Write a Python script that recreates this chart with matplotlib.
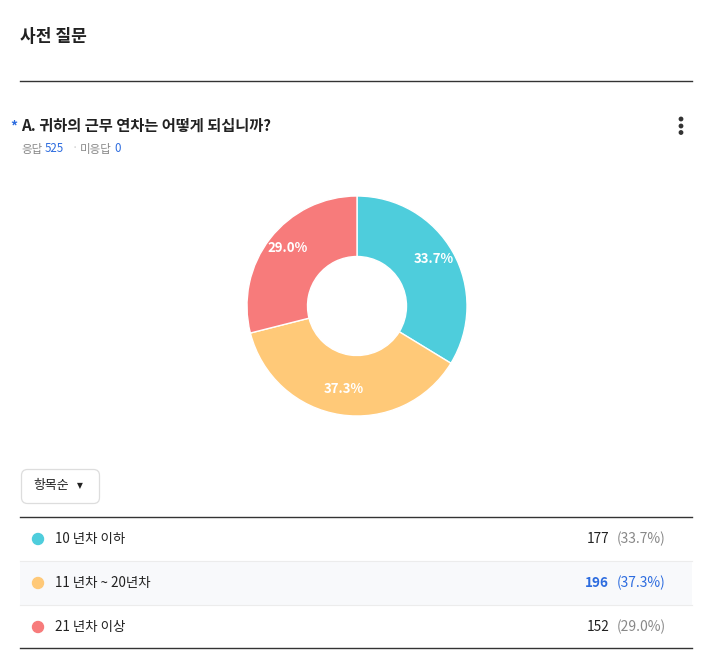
import matplotlib
matplotlib.use("Agg")
import matplotlib.pyplot as plt
from matplotlib.patches import FancyBboxPatch, Rectangle, Circle
import numpy as np

plt.rcParams['font.family'] = ['Noto Sans CJK KR', 'DejaVu Sans']

# ---- data ----
page_title = "사전 질문"
question = "A. 귀하의 근무 연차는 어떻게 되십니까?"
responded = 525
not_responded = 0
sort_label = "항목순"
categories = ["10 년차 이하", "11 년차 ~ 20년차", "21 년차 이상"]
counts = [177, 196, 152]
colors = ["#4ECDDC", "#FFC978", "#F77B7B"]

W, H = 711, 671
fig = plt.figure(figsize=(W / 100, H / 100), dpi=100)
fig.patch.set_facecolor("white")

# overlay axes in pixel coords
ov = fig.add_axes([0, 0, 1, 1])
ov.set_xlim(0, W)
ov.set_ylim(H, 0)
ov.axis("off")

dark = "#222222"
gray = "#888888"
blue = "#2D6CDF"

ov.text(20, 37, page_title, fontsize=12.3, fontweight="bold", color=dark, va="center", ha="left")
ov.plot([20, 692], [81, 81], color="#333333", lw=1)

ov.text(10, 127, "*", fontsize=10, fontweight="bold", color=blue, va="center", ha="left")
ov.text(21, 126, question, fontsize=11, fontweight="bold", color=dark, va="center", ha="left")
for yy in (119, 126, 132.5):
    ov.add_patch(Circle((681, yy), 1.7, color="#333333"))

# response line
ov.text(21, 149, "응답", fontsize=8.3, color=gray, va="center", ha="left")
ov.text(45, 149, f"{responded}", fontsize=8.3, color=blue, va="center", ha="left")
ov.text(72, 149, "·", fontsize=8.3, color="#cccccc", va="center", ha="left")
ov.text(80, 149, "미응답", fontsize=8.3, color=gray, va="center", ha="left")
ov.text(114, 149, f"{not_responded}", fontsize=8.3, color=blue, va="center", ha="left")

# donut
total = sum(counts)
pcts = [c / total * 100 for c in counts]
cx, cy, R = 357, 306, 110
pax = fig.add_axes([(cx - R) / W, 1 - (cy + R) / H, 2 * R / W, 2 * R / H])
wedges, _ = pax.pie(counts, colors=colors, startangle=90, counterclock=False,
                    radius=1.0, wedgeprops=dict(width=0.55, edgecolor="white", linewidth=1))
ang = 90.0
for c, p in zip(counts, pcts):
    span = c / total * 360
    mid = np.deg2rad(ang - span / 2)
    ang -= span
    r = 0.80
    pax.text(r * np.cos(mid), r * np.sin(mid) + 0.04, f"{p:.1f}%", color="white",
             fontsize=9.5, fontweight="bold", ha="center", va="center")
pax.set_xlim(-1, 1)
pax.set_ylim(-1, 1)
pax.set_aspect("equal")
pax.axis("off")

# sort dropdown
ov.add_patch(FancyBboxPatch((21.5, 469.5), 78, 34, boxstyle="round,pad=0,rounding_size=6",
                            facecolor="white", edgecolor="#dddddd", lw=0.9))
ov.text(33, 486, sort_label, fontsize=9.3, color=dark, va="center", ha="left")
ov.text(77, 486, "▼", fontsize=5.5, color=dark, va="center", ha="left", family="DejaVu Sans")

# table
top = 517
rh = 44
ov.plot([20, 692], [top, top], color="#333333", lw=1)
maxc = max(counts)
for i, (cat, c, p, col) in enumerate(zip(categories, counts, pcts, colors)):
    y0 = top + i * rh
    yc = y0 + rh / 2
    is_max = c == maxc
    if is_max:
        ov.add_patch(Rectangle((20, y0), 672, rh, facecolor="#F8F9FB", edgecolor="none"))
    if i > 0:
        ov.plot([20, 692], [y0, y0], color="#ececec", lw=0.8)
    ov.add_patch(Circle((38, yc), 5.5, color=col))
    ov.text(55, yc, cat, fontsize=9.7, color=dark, va="center", ha="left")
    ov.text(609, yc, f"{c}", fontsize=9.8, color=blue if is_max else dark,
            fontweight="bold" if is_max else "normal", va="center", ha="right")
    ov.text(666, yc, f"({p:.1f}%)", fontsize=10, color=blue if is_max else gray,
            va="center", ha="right")
ov.plot([20, 692], [top + 3 * rh - 1, top + 3 * rh - 1], color="#333333", lw=1)

fig.savefig("out.png", dpi=100, facecolor="white")
